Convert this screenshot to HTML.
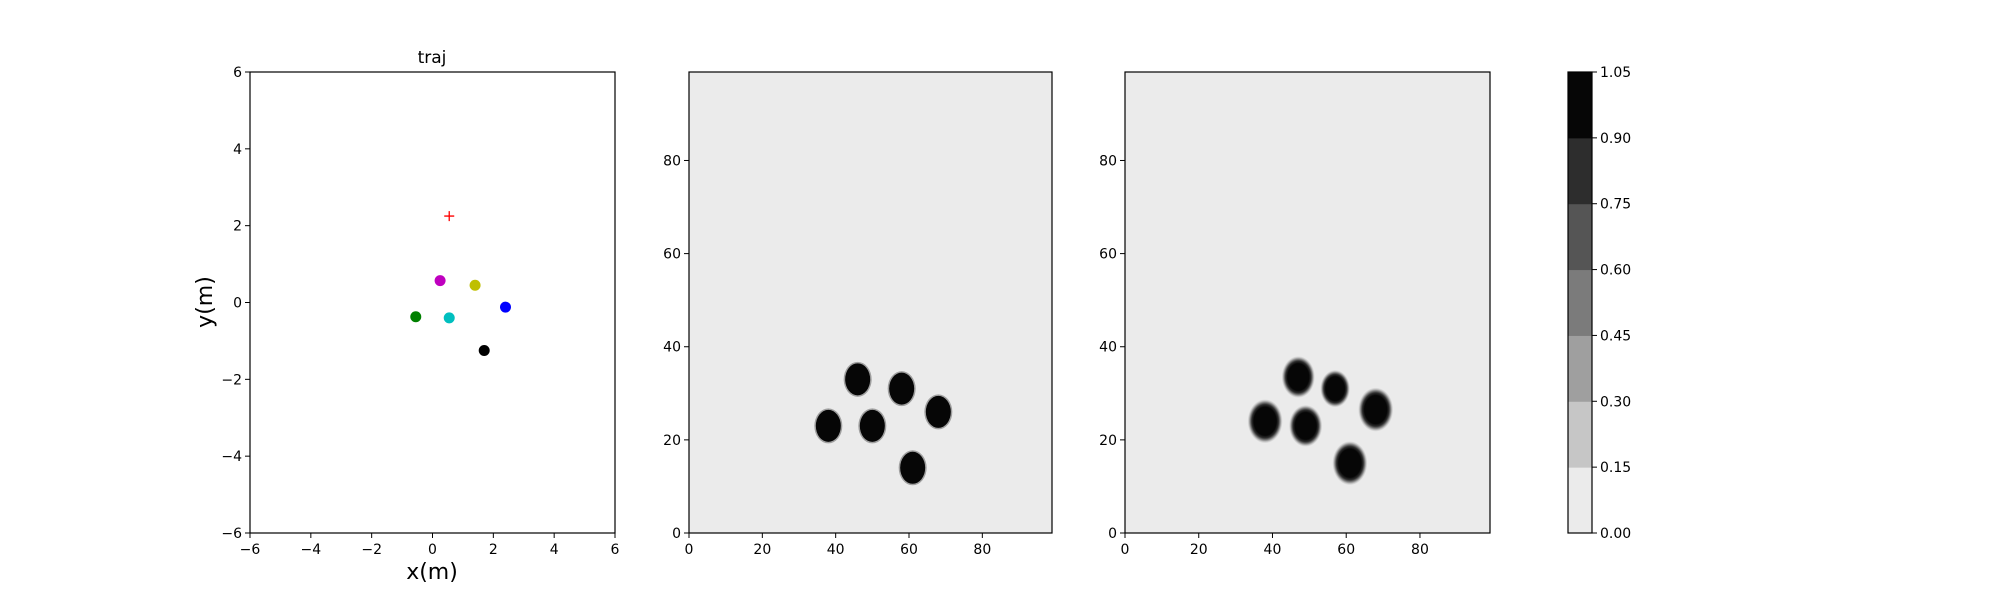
<!DOCTYPE html>
<html><head><meta charset="utf-8"><style>
html,body{margin:0;padding:0;background:#fff;}
svg{display:block;font-family:"DejaVu Sans","Liberation Sans",sans-serif;}
</style></head><body>
<svg id="fig" width="2000" height="600" viewBox="0 0 2000 600" xmlns="http://www.w3.org/2000/svg">
<defs>
<radialGradient id="soft" cx="0.5" cy="0.5" r="0.5">
<stop offset="0" stop-color="#060606"/><stop offset="0.64" stop-color="#060606"/>
<stop offset="0.76" stop-color="#2d2d2d"/><stop offset="0.85" stop-color="#7b7b7b"/>
<stop offset="0.93" stop-color="#c6c6c6"/><stop offset="1" stop-color="#ebebeb"/>
</radialGradient>
</defs>
</svg>
<script>
const trajNames = ['target','magenta','yellow','blue','green','cyan','black'];
const trajX = [0.55, 0.25, 1.4, 2.4, -0.55, 0.55, 1.7];
const trajY = [2.25, 0.57, 0.45, -0.12, -0.37, -0.4, -1.25];
const trajColors = ['red','#bf00bf','#bfbf00','#0000ff','#008000','#00bfbf','#000000'];
const trajTicks = [-6,-4,-2,0,2,4,6];
const map1X = [38, 46, 50, 58, 68, 61];
const map1Y = [23, 33, 23, 31, 26, 14];
const map2X = [38, 47, 49, 57, 68, 61];
const map2Y = [24, 33.5, 23, 31, 26.5, 15];
const map2Size = [1, 0.95, 0.95, 0.85, 1, 1];
const mapTicksX = [0,20,40,60,80];
const mapTicksY = [0,20,40,60,80];
const cbLevels = [0,0.15,0.30,0.45,0.60,0.75,0.90,1.05];
const cbColors = ['#ebebeb','#c6c6c6','#9f9f9f','#7b7b7b','#555555','#2d2d2d','#060606'];

const svg = document.getElementById('fig');
const NS = 'http://www.w3.org/2000/svg';
function mk(tag, attrs, parent){const e=document.createElementNS(NS,tag);for(const k in attrs)e.setAttribute(k,attrs[k]);(parent||svg).appendChild(e);return e;}
function txt(s, attrs, parent){const e=mk('text',attrs,parent);e.textContent=s;return e;}

const TOP=72, BOT=533;
function axes(name, L, R, xmin, xmax, ymin, ymax, xticks, yticks, tickFmt){
  const g = mk('g',{});
  
  
  const sx = v => L + (v-xmin)/(xmax-xmin)*(R-L);
  const sy = v => BOT - (v-ymin)/(ymax-ymin)*(BOT-TOP);
  return {g, sx, sy, L, R, xticks, yticks, tickFmt};
}
function frame(a, bg){
  const r = mk('rect',{x:a.L,y:TOP,width:a.R-a.L,height:BOT-TOP,fill:bg,stroke:'none'},a.g);
  
  
}
function border(a){
  const b = mk('rect',{x:a.L,y:TOP,width:a.R-a.L,height:BOT-TOP,fill:'none',stroke:'#000','stroke-width':1.2},a.g);
  
  
  a.xticks.forEach(v=>{
    const x=a.sx(v);
    mk('line',{x1:x,x2:x,y1:BOT,y2:BOT+5,stroke:'#000','stroke-width':1},a.g);
    const t=txt(a.tickFmt(v),{x:x,y:BOT+21,'font-size':14,'text-anchor':'middle'},a.g);
    
    
  });
  a.yticks.forEach(v=>{
    const y=a.sy(v);
    mk('line',{x1:a.L-5,x2:a.L,y1:y,y2:y,stroke:'#000','stroke-width':1},a.g);
    const t=txt(a.tickFmt(v),{x:a.L-8,y:y+5,'font-size':14,'text-anchor':'end'},a.g);
    
    
  });
}
const fmtSigned = v => v<0 ? '\u2212'+Math.abs(v) : String(v);

// Trajectory plot
const a1 = axes('traj-axes',250,615,-6,6,-6,6,trajTicks,trajTicks,fmtSigned);
frame(a1,'#fff');
trajX.forEach((x,i)=>{
  const cx=a1.sx(x), cy=a1.sy(trajY[i]);
  if(i===0){
    const p=mk('path',{d:`M${cx-5},${cy}H${cx+5}M${cx},${cy-5}V${cy+5}`,stroke:trajColors[i],'stroke-width':1.3,fill:'none'},a1.g);
    
    
  } else {
    const c=mk('circle',{cx:cx,cy:cy,r:5.5,fill:trajColors[i]},a1.g);
    
    
  }
});
border(a1);
const t1=txt('traj',{x:432,y:63,'font-size':17,'text-anchor':'middle'});


const xl=txt('x(m)',{x:432,y:579,'font-size':22,'text-anchor':'middle'});


const yl=txt('y(m)',{x:0,y:0,'font-size':22,'text-anchor':'middle',transform:'translate(212,302) rotate(-90)'});



// Map plots
function mapPlot(name, L, R, xs, ys, soft, sizes){
  const a = axes(name,L,R,0,99,0,99,mapTicksX,mapTicksY,String);
  frame(a,'#ebebeb');
  xs.forEach((x,i)=>{
    const cx=a.sx(x), cy=a.sy(ys[i]);
    const s = sizes ? sizes[i] : 1;
    let e;
    if(soft){
      e=mk('ellipse',{cx:cx,cy:cy,rx:17.5*s,ry:22*s,fill:'url(#soft)'},a.g);
    } else {
      mk('ellipse',{cx:cx,cy:cy,rx:14,ry:17.5,fill:'#9f9f9f'},a.g);
      e=mk('ellipse',{cx:cx,cy:cy,rx:12.5,ry:16,fill:'#060606'},a.g);
    }
    
    
  });
  border(a);
}
mapPlot('map-axes-1',689,1052,map1X,map1Y,false,null);
mapPlot('map-axes-2',1125,1490,map2X,map2Y,true,map2Size);

// Colorbar
const cb = mk('g',{});


const CL=1568, CR=1592;
const cy = v => BOT - (v-cbLevels[0])/(cbLevels[cbLevels.length-1]-cbLevels[0])*(BOT-TOP);
cbColors.forEach((c,i)=>{
  const r=mk('rect',{x:CL,y:cy(cbLevels[i+1]),width:CR-CL,height:cy(cbLevels[i])-cy(cbLevels[i+1])+0.5,fill:c},cb);
  
  
});
mk('rect',{x:CL,y:TOP,width:CR-CL,height:BOT-TOP,fill:'none',stroke:'#000','stroke-width':1.2},cb);
cbLevels.forEach(v=>{
  const y=cy(v);
  mk('line',{x1:CR,x2:CR+5,y1:y,y2:y,stroke:'#000','stroke-width':1},cb);
  const t=txt(v.toFixed(2),{x:CR+8,y:y+5,'font-size':14},cb);
  
  
});
</script>
</body></html>
